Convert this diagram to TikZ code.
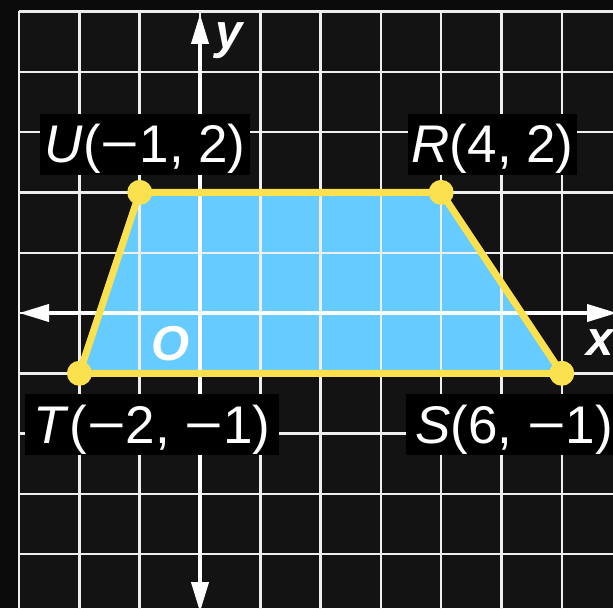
\documentclass[tikz,border=0pt]{standalone}
\usepackage{fontspec}
\setmainfont{Liberation Sans}
\usetikzlibrary{arrows.meta}
\definecolor{bgdark}{HTML}{0B0B0B}
\definecolor{bggrid}{HTML}{131313}
\definecolor{gridwhite}{HTML}{EEEEEE}
\definecolor{trapblue}{HTML}{66CBFE}
\definecolor{edgeyellow}{HTML}{FCE14E}
\newcommand{\wminus}{\scalebox{1.25}[1]{−}}
\begin{document}
\begin{tikzpicture}[x=60.3pt,y=60.3pt,
  gridline/.style={draw=gridwhite, line width=2.4pt},
  axisline/.style={draw=white, line width=4pt,
    {Triangle[length=30pt,width=17pt]}-{Triangle[length=30pt,width=17pt]}},
  edgeline/.style={draw=edgeyellow, line width=7pt, line join=round},
  vdot/.style={fill=edgeyellow},
  ptlabel/.style={fill=black, text=white, inner xsep=0pt, inner ysep=0pt,
    text height=49pt, text depth=12pt, anchor=base west,
    font=\fontsize{53}{60}\selectfont},
  axlabel/.style={text=white, inner sep=0pt, anchor=base west,
    font=\fontsize{49}{56}\selectfont\bfseries\itshape}]
\useasboundingbox (-200pt,313pt) rectangle (413pt,-295pt);
\fill[bgdark] (-200pt,313pt) rectangle (413pt,-295pt);
\fill[bggrid] (-3,5) rectangle (413pt,-295pt);
\coordinate (U) at (-1,2);
\coordinate (R) at (4,2);
\coordinate (S) at (6,-1);
\coordinate (T) at (-2,-1);
\fill[trapblue] (T) -- (U) -- (R) -- (S) -- cycle;
\draw[gridline, step=60.3pt] (-3,-5.2) grid (7.2,5);
\coordinate (xl) at (-3,0);
\coordinate (xr) at (417pt,0);
\coordinate (yt) at (0,299pt);
\coordinate (yb) at (0,-299pt);
\draw[axisline] (xl) -- (xr);
\draw[axisline] (yb) -- (yt);
\draw[edgeline] (T) -- (U) -- (R) -- (S) -- cycle;
\foreach \p in {U,R,S,T} \fill[vdot] (\p) circle (12.5pt);
\node[ptlabel, minimum width=210pt] (lU) at (-160pt,150pt) {\textit{U}(\wminus1, 2)};
\node[ptlabel, minimum width=169pt] (lR) at (208pt,150pt) {\textit{R}(4, 2)};
\node[ptlabel, minimum width=254pt] (lT) at (-175pt,-130pt) {\textit{T}(\wminus2, \wminus1)};
\node[ptlabel, minimum width=216pt] (lS) at (206pt,-130pt) {\textit{S}(6, \wminus1)};
\node[axlabel] (lO) at (-49pt,-47pt) {O};
\node[axlabel] (lx) at (386pt,-42pt) {x};
\node[axlabel] (ly) at (15pt,264pt) {y};
\end{tikzpicture}
\end{document}
